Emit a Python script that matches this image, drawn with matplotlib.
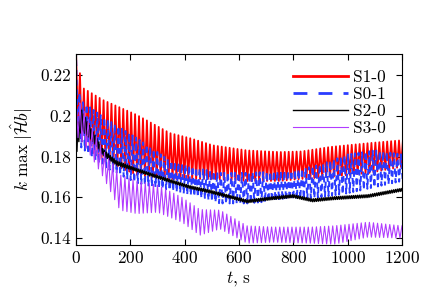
import numpy as np
import matplotlib
matplotlib.use("Agg")
import matplotlib.pyplot as plt
from matplotlib.ticker import FormatStrFormatter

# Envelopes (t in s, upper / lower peaks)
s10_t = [0, 8, 26, 100, 224, 346, 420, 504, 630, 750, 830, 935, 1080, 1200]
s10_hi = [0.232, 0.225, 0.2136, 0.2077, 0.2004, 0.1915, 0.189, 0.1855,
          0.183, 0.1822, 0.1825, 0.1847, 0.1866, 0.188]
s10_lo = [0.232, 0.192, 0.186, 0.178, 0.171, 0.169, 0.169, 0.169,
          0.168, 0.168, 0.169, 0.170, 0.172, 0.175]

s01_t = [0, 15, 100, 224, 346, 456, 530, 630, 800, 900, 1000, 1100, 1200]
s01_hi = [0.232, 0.2077, 0.1994, 0.189, 0.178, 0.174, 0.172, 0.172,
          0.173, 0.176, 0.181, 0.183, 0.181]
s01_lo = [0.195, 0.185, 0.175, 0.167, 0.1635, 0.160, 0.157, 0.157,
          0.159, 0.160, 0.162, 0.165, 0.168]

s20_t = [0, 5, 20, 50, 100, 150, 224, 335, 420, 500, 630, 725, 800,
         870, 953, 1075, 1190, 1200]
s20_mid = [0.185, 0.19, 0.198, 0.192, 0.182, 0.1768, 0.1734, 0.1685,
           0.165, 0.1626, 0.158, 0.1596, 0.1606, 0.1585, 0.1596, 0.1606,
           0.1635, 0.1637]
s20_amp = [0.006, 0.006, 0.005, 0.003, 0.0015, 0.001, 0.0007, 0.0007,
           0.0007, 0.0007, 0.0007, 0.0007, 0.0007, 0.0007, 0.0007, 0.0007,
           0.0007, 0.0007]

s30_t = [0, 20, 100, 162, 224, 300, 390, 456, 530, 630, 725, 866, 950,
         1075, 1200]
s30_hi = [0.21, 0.205, 0.183, 0.171, 0.168, 0.166, 0.160, 0.154, 0.1537,
          0.146, 0.1454, 0.1454, 0.146, 0.1478, 0.146]
s30_lo = [0.19, 0.188, 0.170, 0.1537, 0.152, 0.1527, 0.1478, 0.1414,
          0.1445, 0.1375, 0.138, 0.1375, 0.137, 0.1405, 0.140]

labels = ["S1-0", "S0-1", "S2-0", "S3-0"]
periods = [14.5, 13.0, 7.0, 15.0]


def zigzag(t, hi, lo, period):
    """Alternate between read upper and lower peaks every half period."""
    tt = np.arange(0, 1200 + period / 2, period / 2)
    up = np.interp(tt, t, hi)
    dn = np.interp(tt, t, lo)
    vals = np.where(np.arange(len(tt)) % 2 == 0, up, dn)
    return tt, vals


plt.rcParams["font.family"] = "serif"
plt.rcParams["font.serif"] = ["cmr10"]
plt.rcParams["mathtext.fontset"] = "cm"
plt.rcParams["axes.formatter.use_mathtext"] = True
plt.rcParams["font.size"] = 12.5

fig = plt.figure(figsize=(4.36, 3.0), dpi=100)
ax = fig.add_axes([0.1743, 0.1833, 0.7477, 0.6367])

s20_hi = np.array(s20_mid) + np.array(s20_amp)
s20_lo = np.array(s20_mid) - np.array(s20_amp)

series = [
    (s10_t, s10_hi, s10_lo, dict(color="#ff0000", lw=1.3, ls="-")),
    (s01_t, s01_hi, s01_lo, dict(color="#2a3cff", lw=1.4, ls=(0, (3, 2)))),
    (s20_t, s20_hi, s20_lo, dict(color="black", lw=1.0, ls="-")),
    (s30_t, s30_hi, s30_lo, dict(color="#b13cff", lw=0.8, ls="-")),
]

legend_lw = [2.0, 2.0, 1.0, 0.8]
legend_ls = ["-", (0, (5, 4)), "-", "-"]

for (t, hi, lo, style), label, period in zip(series, labels, periods):
    tt, vals = zigzag(t, hi, lo, period)
    ax.plot(tt, vals, label=label, **style)

ax.set_xlim(0, 1200)
ax.set_ylim(0.1366, 0.2303)
ax.set_xticks([0, 200, 400, 600, 800, 1000, 1200])
ax.set_yticks([0.14, 0.16, 0.18, 0.2, 0.22])
ax.yaxis.set_major_formatter(FormatStrFormatter("%g"))
ax.tick_params(direction="in", top=True, right=True, length=4, width=0.8)

ax.set_xlabel(r"$t$, s", labelpad=2)
ax.set_ylabel(r"$k\ \max\ |\hat{\mathcal{H}}b|$", labelpad=4)

leg = ax.legend(loc="upper right", frameon=False, handlelength=3.2,
                handletextpad=0.3, labelspacing=0.1,
                bbox_to_anchor=(1.0, 1.0))
for line, lw, ls in zip(leg.get_lines(), legend_lw, legend_ls):
    line.set_linewidth(lw)
    line.set_linestyle(ls)

fig.savefig("out.png", dpi=100)
